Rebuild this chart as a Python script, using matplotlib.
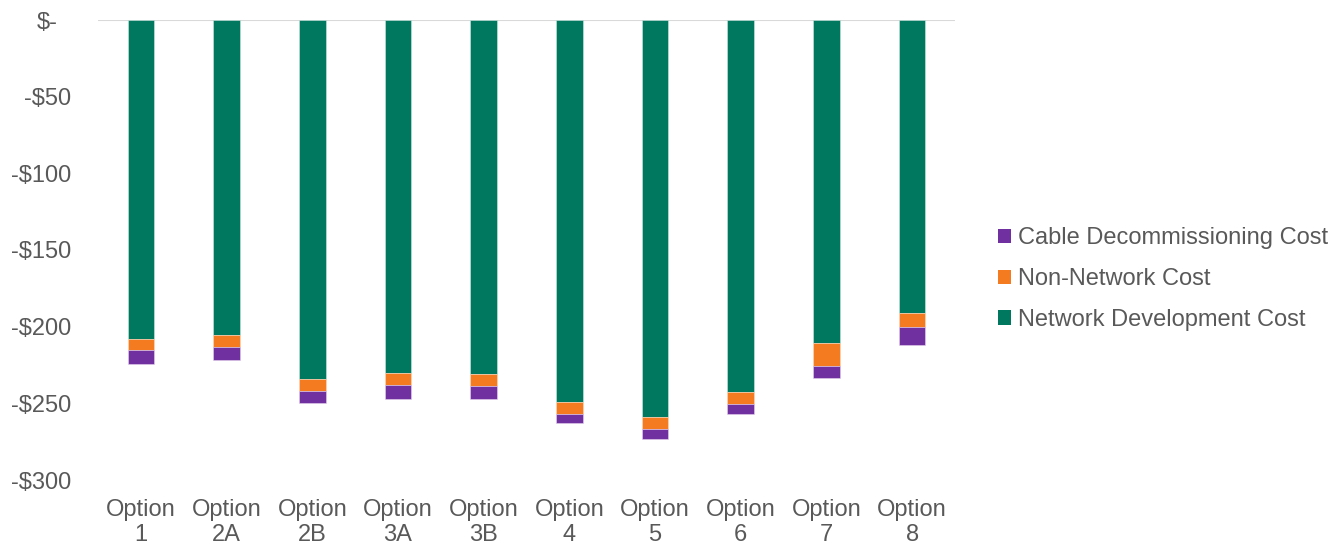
import matplotlib
matplotlib.use("Agg")
import matplotlib.pyplot as plt
from matplotlib.ticker import FixedLocator, FuncFormatter
from matplotlib.patches import Patch
import numpy as np

plt.rcParams['font.family'] = ['Liberation Sans', 'DejaVu Sans']

options = ["Option\n1", "Option\n2A", "Option\n2B", "Option\n3A", "Option\n3B",
           "Option\n4", "Option\n5", "Option\n6", "Option\n7", "Option\n8"]
network_dev = [-208.0, -205.4, -234.2, -230.0, -230.7, -249.0, -258.8, -242.4, -210.4, -191.4]
non_network = [-7.2, -7.9, -7.8, -8.0, -8.0, -7.8, -7.8, -7.9, -15.0, -8.5]
cable_decom = [-9.0, -8.3, -8.0, -9.0, -8.3, -6.2, -6.4, -6.5, -8.2, -12.1]

c_net = "#00785F"
c_non = "#F47B20"
c_cab = "#7030A0"
txt = "#595959"

fig = plt.figure(figsize=(13.31, 5.42), dpi=100)
ax = fig.add_axes([98 / 1331, 1 - 480 / 542, (955 - 98) / 1331, 460 / 542])

x = np.arange(len(options))
w = 0.31
net = np.array(network_dev)
non = np.array(non_network)
cab = np.array(cable_decom)
ax.bar(x, net, w, color=c_net, edgecolor="#cfe8e0", linewidth=0.4, zorder=2)
ax.bar(x, non, w, bottom=net, color=c_non, edgecolor="#fbd9bf", linewidth=0.4, zorder=2)
ax.bar(x, cab, w, bottom=net + non, color=c_cab, edgecolor="#e3d1ef", linewidth=0.4, zorder=2)

ax.set_xlim(-0.5, len(options) - 0.5)
ax.set_ylim(-300, 0)
ax.axhline(0, color="#D9D9D9", linewidth=1.5, zorder=1)
for s in ax.spines.values():
    s.set_visible(False)

ax.yaxis.set_major_locator(FixedLocator([0, -50, -100, -150, -200, -250, -300]))
ax.yaxis.set_major_formatter(FuncFormatter(lambda v, p: "$-" if v == 0 else "-$%d" % abs(v)))
ax.set_xticks(x)
ax.set_xticklabels(options, linespacing=1.15)
ax.tick_params(axis="y", length=0, pad=19, labelsize=17, labelcolor=txt)
ax.tick_params(axis="x", length=0, pad=14, labelsize=17, labelcolor=txt)

# accounting-style zero label sits further left than the others
fig.canvas.draw()
for lbl in ax.get_yticklabels():
    if lbl.get_text() == "$-":
        pos = lbl.get_position()
        lbl.set_visible(False)
        ax.annotate("$-", xy=(0, pos[1]), xycoords=ax.get_yaxis_transform(),
                    xytext=(-40, -3), textcoords="offset pixels",
                    ha="right", va="center", fontsize=17, color=txt)

handles = [Patch(facecolor=c_cab, label="Cable Decommissioning Cost"),
           Patch(facecolor=c_non, label="Non-Network Cost"),
           Patch(facecolor=c_net, label="Network Development Cost")]
leg = fig.legend(handles=handles, loc="center left", bbox_to_anchor=(998 / 1331, 1 - 279 / 542),
                 frameon=False, fontsize=17, handlelength=0.55, handleheight=0.55,
                 handletextpad=0.3, labelspacing=0.8, borderaxespad=0, borderpad=0)
for t in leg.get_texts():
    t.set_color(txt)

fig.savefig("out.png", dpi=100)
